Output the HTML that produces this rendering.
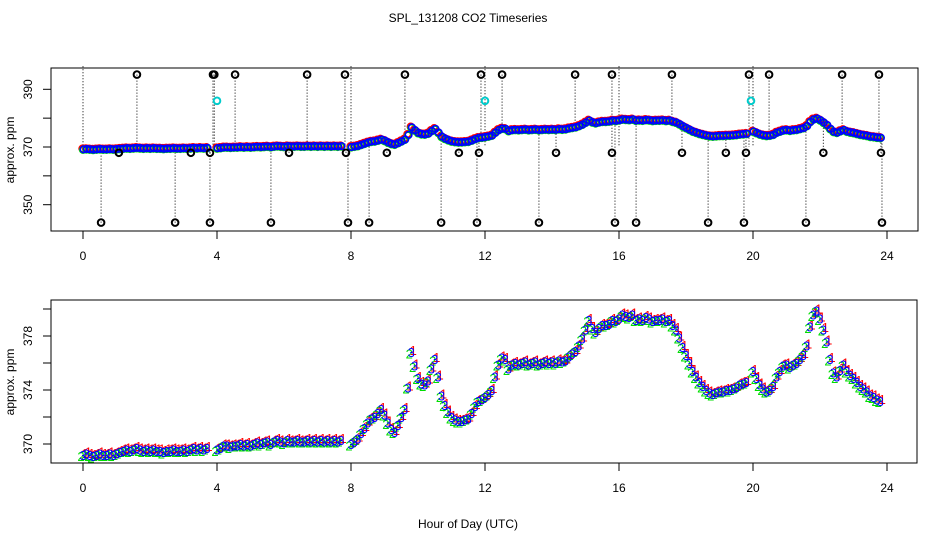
<!DOCTYPE html>
<html><head><meta charset="utf-8"><style>
html,body{margin:0;padding:0;background:#fff;}
svg{display:block;font-family:"Liberation Sans",sans-serif;}
</style></head><body>
<svg id="chart" width="936" height="540" viewBox="0 0 936 540">
<text x="468" y="22" font-size="12" text-anchor="middle">SPL_131208  CO2 Timeseries</text>
<rect x="51" y="68" width="867" height="163" fill="none" stroke="#000"/>
<rect x="51" y="300" width="866" height="163" fill="none" stroke="#000"/>
<text transform="translate(14,150) rotate(-90)" font-size="12" text-anchor="middle">approx. ppm</text>
<text transform="translate(14,382) rotate(-90)" font-size="12" text-anchor="middle">approx. ppm</text>
<text x="468" y="528" font-size="12" text-anchor="middle">Hour of Day (UTC)</text>
<g id="topplot"></g>
<g id="botplot"></g>
</svg>
<script>
const xTicks = [0,4,8,12,16,20,24];
const topYTicks = [350,360,370,380,390];
const topYLabels = [350,370,390];
const botYTicks = [370,372,374,376,378,380];
const botYLabels = [370,374,378];
const hours = [];
const co2 = [
369.2,369.3,369.2,369.1,369.2,369.3,369.2,369.2,369.3,369.2,
369.3,369.4,369.5,369.6,369.5,369.6,369.7,369.6,369.5,369.6,
369.5,369.6,369.5,369.5,369.4,369.5,369.5,369.6,369.5,369.5,
369.6,369.5,369.6,369.7,369.6,369.7,369.6,369.7,null,null,
369.6,369.7,369.9,369.9,369.8,369.9,369.9,370.0,369.9,370.0,
369.9,370.0,370.1,370.0,370.1,370.2,370.0,370.2,370.3,370.2,
370.1,370.3,370.2,370.2,370.3,370.2,370.2,370.3,370.2,370.3,
370.2,370.3,370.2,370.3,370.2,370.3,370.2,370.3,null,null,
370.0,370.2,370.4,370.8,371.2,371.6,371.9,372.0,372.3,372.6,
372.2,371.6,371.1,370.9,371.4,372.0,372.6,374.2,376.8,375.8,
374.9,374.5,374.4,374.7,375.6,376.3,375.0,373.6,372.9,372.4,
372.0,371.8,371.7,371.7,371.8,371.9,372.3,372.8,373.2,373.3,
373.5,373.7,374.0,375.0,375.9,376.4,376.3,375.6,375.9,376.0,
375.9,376.0,376.1,375.9,376.0,376.1,375.9,376.0,376.1,376.0,
376.1,376.0,376.2,376.1,376.2,376.5,376.7,376.9,377.3,377.8,
378.5,379.2,378.6,378.3,378.6,378.8,378.8,378.9,379.2,379.1,
379.3,379.6,379.5,379.4,379.6,379.2,379.3,379.2,379.4,379.3,
379.1,379.2,379.2,379.3,379.1,379.2,378.8,378.5,377.9,377.2,
376.6,376.0,375.4,375.0,374.6,374.3,374.0,373.8,373.7,373.8,
373.9,373.9,374.0,374.0,374.1,374.2,374.4,374.5,374.6,null,
375.4,374.9,374.4,374.1,373.9,374.0,374.3,375.0,375.4,375.8,
375.9,375.7,375.9,376.0,376.3,376.6,377.3,378.7,379.6,379.9,
379.3,378.5,377.6,376.3,375.3,375.0,375.5,375.9,375.4,375.1,
374.9,374.6,374.3,374.1,373.9,373.6,373.5,373.3,373.2];
for (let i = 0; i < co2.length; i++) hours.push(i / 10);
const highOutlierHours = [1.61,3.88,3.92,4.54,6.69,7.82,9.61,11.88,12.51,14.69,15.79,17.58,19.88,20.48,22.66,23.76];
const highOutlierValue = 395.1;
const lowOutlierHours = [0.54,2.75,3.79,5.61,7.91,8.54,10.69,11.76,13.61,15.88,16.51,18.66,19.73,21.58,23.85];
const lowOutlierValue = 343.8;
const midOutlierHours = [1.07,3.22,3.79,6.15,7.85,9.07,11.22,11.82,14.12,15.79,17.88,19.19,19.79,22.1,23.82];
const midOutlierValue = 368.0;
const cyanHours = [4.0,12.0,19.94];
const cyanValue = 386.0;

const NS = "http://www.w3.org/2000/svg";
function xs(h){ return 83 + h * 33.5; }
function yTop(v){ return 147 - (v - 370) * 2.885; }
function yBot(v){ return 444 - (v - 370) * 13.5; }
function mk(tag, attrs, parent){
  const e = document.createElementNS(NS, tag);
  for (const k in attrs) e.setAttribute(k, attrs[k]);
  parent.appendChild(e);
  return e;
}
function valAt(h){
  const i = Math.round(h * 10);
  let v = co2[Math.min(Math.max(i,0), co2.length-1)];
  if (v == null) v = 370;
  return v;
}
const topG = document.getElementById('topplot');
const botG = document.getElementById('botplot');

function axes(g, axisY, yt, yl, yAxisFn){
  xTicks.forEach(t=>{
    const tk = mk('line',{x1:xs(t),x2:xs(t),y1:axisY,y2:axisY+8,stroke:'#000'},g);
    
    
    const lb = mk('text',{x:xs(t),y:axisY+29,'font-size':12,'text-anchor':'middle'},g);
    lb.textContent = t;
    
    
  });
  yt.forEach(t=>{
    const tk = mk('line',{x1:43,x2:51,y1:yAxisFn(t),y2:yAxisFn(t),stroke:'#000'},g);
    
    
  });
  yl.forEach(t=>{
    const lb = mk('text',{transform:`translate(32,${yAxisFn(t)}) rotate(-90)`,'font-size':12,'text-anchor':'middle'},g);
    lb.textContent = t;
    
    
  });
}
axes(topG, 231, topYTicks, topYLabels, yTop);
axes(botG, 463, botYTicks, botYLabels, yBot);

function dotted(h, v1, v2){
  const l = mk('line',{x1:xs(h),x2:xs(h),y1:yTop(v1),y2:yTop(v2),stroke:'#000','stroke-dasharray':'1,2','stroke-width':1},topG);
  
  
}
highOutlierHours.forEach(h=>dotted(h, highOutlierValue, valAt(h)));
lowOutlierHours.forEach(h=>dotted(h, lowOutlierValue, valAt(h)));
midOutlierHours.forEach(h=>dotted(h, midOutlierValue, valAt(h)));
[0,8,12,16,20].forEach(h=>dotted(h, 398, 370));

const colors = ['#ff0000','#00dd00','#0000ff'];
const offs = [0.25,-0.2,0];
for (let s = 0; s < 3; s++){
  hours.forEach((h,i)=>{
    if (co2[i] == null) return;
    const c = mk('circle',{cx:xs(h)+(s-1)*0.6,cy:yTop(co2[i]+offs[s]),r:3.3,fill:'none',stroke:colors[s],'stroke-width':1.6},topG);
    
    
  });
}
function outCircle(h, v, col, name){
  const c = mk('circle',{cx:xs(h),cy:yTop(v),r:3.3,fill:'none',stroke:col,'stroke-width':2},topG);
  
  
}
highOutlierHours.forEach(h=>outCircle(h, highOutlierValue, '#000', 'high-outlier-point'));
lowOutlierHours.forEach(h=>outCircle(h, lowOutlierValue, '#000', 'low-outlier-point'));
midOutlierHours.forEach(h=>outCircle(h, midOutlierValue, '#000', 'mid-outlier-point'));
cyanHours.forEach(h=>outCircle(h, cyanValue, '#00cccc', 'cyan-flag-point'));

const glyphs = ['1','2','3'];
const boff = [0.15,-0.1,0];
const bx = [2,-2,0];
for (let s = 0; s < 3; s++){
  hours.forEach((h,i)=>{
    if (co2[i] == null) return;
    const t = mk('text',{x:xs(h)+bx[s],y:yBot(co2[i]+boff[s])+5,'font-size':13,'text-anchor':'middle',fill:colors[s]},botG);
    t.textContent = glyphs[s];
    
    
  });
}
</script>
</body></html>
